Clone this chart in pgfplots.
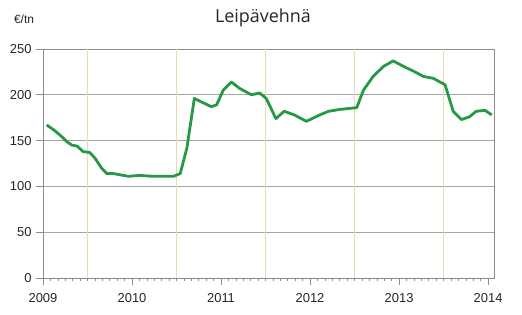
\documentclass[border=0pt]{standalone}
\usepackage{fontspec}
\setmainfont{Liberation Sans}
\newfontfamily\titlefont{Open Sans}
\usepackage{pgfplots}
\pgfplotsset{compat=1.18}
\definecolor{lineg}{RGB}{38,152,70}
\definecolor{hgrid}{RGB}{165,165,165}
\definecolor{vgrid}{RGB}{228,222,178}
\definecolor{axgrey}{RGB}{140,140,140}
\begin{document}
\begin{tikzpicture}
\path[use as bounding box] (0,0) rectangle (522bp,315bp);
\begin{axis}[
  at={(43bp,37bp)}, anchor=south west,
  scale only axis, width=451bp, height=229bp,
  xmin=0, xmax=60.8, ymin=0, ymax=250,
  axis line style={axgrey, line width=0.8pt},
  xtick={0,12,24,36,48,60},
  xticklabels={2009,2010,2011,2012,2013,2014},
  minor xtick={1,2,3,4,5,6,7,8,9,10,11,13,14,15,16,17,18,19,20,21,22,23,25,26,27,28,29,30,31,32,33,34,35,37,38,39,40,41,42,43,44,45,46,47,49,50,51,52,53,54,55,56,57,58,59},
  ytick={0,50,100,150,200,250},
  tick align=outside,
  major tick length=7bp, minor tick length=3bp,
  xtick pos=bottom, ytick pos=left,
  tick style={axgrey, line width=0.6pt},
  ymajorgrids, major y grid style={hgrid, line width=0.8pt},
  extra x ticks={6,18,30,42,54}, extra x tick labels={},
  extra x tick style={xmajorgrids, major grid style={vgrid, line width=0.8pt}, major tick length=0pt},
  ticklabel style={font=\fontsize{13}{14}\selectfont, text=black!85},
  /pgf/number format/assume math mode=true,
  xticklabel style={yshift=-5bp},
  yticklabel style={xshift=-1bp},
  clip=false,
]
\addplot[lineg, line width=2.8pt, line join=round] coordinates {
(0.5,167) (1.4,162) (2.3,156) (3.2,149) (3.9,145) (4.6,144) (5.4,138) (6.3,137)
(7.0,131) (7.9,120) (8.6,114) (9.5,114) (11.5,111) (13,112) (14.9,111) (17.6,111)
(18.5,114) (19.4,142) (20.4,196) (21.4,192) (22.7,187) (23.4,189) (24.3,205) (25.4,214)
(26.5,207) (28.1,200) (29.2,202) (30.1,196) (31.4,174) (32.5,182) (33.9,178) (35.5,171)
(37.3,178) (38.5,182) (40,184) (42.3,186) (43.2,205) (44.5,220) (45.9,231) (47.2,237)
(48.6,231) (49.9,226) (51.3,220) (52.6,218) (54.2,211) (55.3,182) (56.4,173) (57.5,176)
(58.4,182) (59.6,183) (60.5,178)
};
\end{axis}
\node[font=\titlefont\fontsize{18}{20}\selectfont, text=black!85] at (263bp,297bp) {Leipävehnä};
\node[font=\fontsize{12}{13}\selectfont, text=black!85] at (24bp,296bp) {€/tn};
\end{tikzpicture}
\end{document}
